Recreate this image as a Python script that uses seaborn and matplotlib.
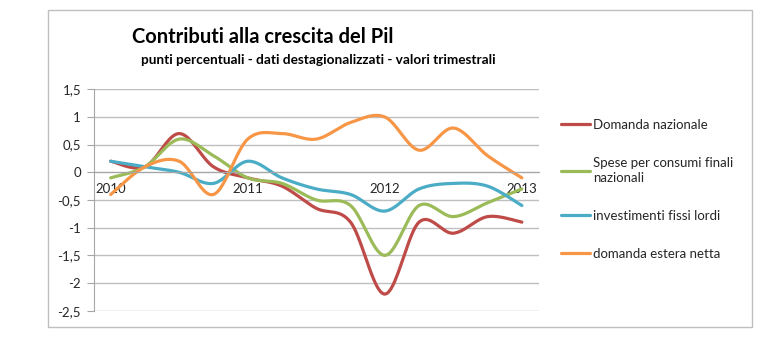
import matplotlib.pyplot as plt
import numpy as np
import pandas as pd
import seaborn as sns
from matplotlib.patches import Rectangle

# trimestri dal 2010 T1 al 2013 T1
trimestri = list(range(13))
etichette_anni = ["2010", "2011", "2012", "2013"]
pos_anni = [0, 4, 8, 12]

domanda_nazionale = [0.2, 0.1, 0.7, 0.1, -0.1, -0.25, -0.65, -0.9, -2.2, -0.9, -1.1, -0.8, -0.9]
spese_consumi = [-0.1, 0.1, 0.6, 0.3, -0.1, -0.2, -0.5, -0.6, -1.5, -0.6, -0.8, -0.55, -0.3]
investimenti = [0.2, 0.1, 0.0, -0.2, 0.2, -0.1, -0.3, -0.4, -0.7, -0.3, -0.2, -0.25, -0.6]
domanda_estera = [-0.4, 0.1, 0.2, -0.4, 0.6, 0.7, 0.6, 0.9, 1.0, 0.4, 0.8, 0.3, -0.1]

nomi = ["Domanda nazionale", "Spese per consumi finali\nnazionali",
        "investimenti fissi lordi", "domanda estera netta"]
colori = ["#BE4B48", "#9BBB59", "#4BACC6", "#F79646"]
valori = [domanda_nazionale, spese_consumi, investimenti, domanda_estera]


def curva_smussata(x, y, passi=25):
    # linea smussata stile Excel (bezier con tangenti catmull-rom)
    p = np.column_stack([x, y]).astype(float)
    p = np.vstack([p[0], p, p[-1]])
    t = np.linspace(0, 1, passi)[:, None]
    pezzi = []
    for i in range(len(x) - 1):
        p0, p3 = p[i + 1], p[i + 2]
        c1 = p0 + (p[i + 2] - p[i]) / 6
        c2 = p3 - (p[i + 3] - p[i + 1]) / 6
        b = (1 - t) ** 3 * p0 + 3 * (1 - t) ** 2 * t * c1 + 3 * (1 - t) * t ** 2 * c2 + t ** 3 * p3
        pezzi.append(b if i == 0 else b[1:])
    return np.vstack(pezzi)


righe = []
for nome, v in zip(nomi, valori):
    c = curva_smussata(trimestri, v)
    righe.append(pd.DataFrame({"x": c[:, 0], "y": c[:, 1], "serie": nome}))
df = pd.concat(righe, ignore_index=True)

sns.set_style("white")
plt.rcParams["font.family"] = ["Lato", "DejaVu Sans"]

fig = plt.figure(figsize=(7.78, 3.51), dpi=100)
ax = fig.add_axes([0.1202, 0.1148, 0.5726, 0.6308])

sns.lineplot(data=df, x="x", y="y", hue="serie", palette=dict(zip(nomi, colori)),
             sort=False, estimator=None, linewidth=2.3, ax=ax, legend=False)

ax.set_xlim(-0.5, 12.5)
ax.set_ylim(-2.5, 1.5)
yt = np.arange(-2.5, 1.51, 0.5)
ax.set_yticks(yt)
ax.set_yticklabels([f"{v:g}".replace(".", ",") for v in yt])
ax.grid(axis="y", color="#BFBFBF", lw=1)
ax.set_axisbelow(True)

ax.spines["top"].set_visible(False)
ax.spines["right"].set_visible(False)
ax.spines["bottom"].set_position(("data", 0))
ax.spines["bottom"].set_color("#A6A6A6")
ax.spines["left"].set_color("#A6A6A6")

ax.set_xticks(np.arange(-0.5, 13, 1))
ax.set_xticklabels([])
ax.set_xticks(pos_anni, minor=True)
ax.set_xticklabels(etichette_anni, minor=True)
ax.tick_params(axis="x", which="major", length=4, color="#A6A6A6", direction="out")
ax.tick_params(axis="x", which="minor", length=0, pad=8, labelsize=9.5, labelcolor="#262626")
ax.tick_params(axis="y", length=5, color="#A6A6A6", direction="out", pad=4,
               labelsize=9.5, labelcolor="#262626", left=True)
ax.set_xlabel("")
ax.set_ylabel("")

fig.patches.append(Rectangle((48 / 778, 1 - 327 / 351), 704 / 778, 317 / 351,
                             transform=fig.transFigure, fill=False,
                             edgecolor="#BFBFBF", lw=1))

fig.text(263 / 778, 1 - 37 / 351, "Contributi alla crescita del Pil",
         ha="center", va="center", fontsize=14.5, fontweight="bold", color="#000000")
fig.text(318 / 778, 1 - 60 / 351,
         "punti percentuali - dati destagionalizzati - valori trimestrali",
         ha="center", va="center", fontsize=9.8, fontweight="bold", color="#000000")

maniglie = [plt.Line2D([], [], color=c, lw=2.3) for c in colori]
leg = fig.legend(maniglie, nomi, loc="upper left", bbox_to_anchor=(561 / 778, 1 - 119 / 351),
                 frameon=False, borderpad=0, borderaxespad=0, handlelength=2.2,
                 handletextpad=0.25, labelspacing=1.95, fontsize=9.5, labelcolor="#262626")
for testo in leg.get_texts():
    testo.set_linespacing(1.35)

fig.savefig("out.png", dpi=100)
